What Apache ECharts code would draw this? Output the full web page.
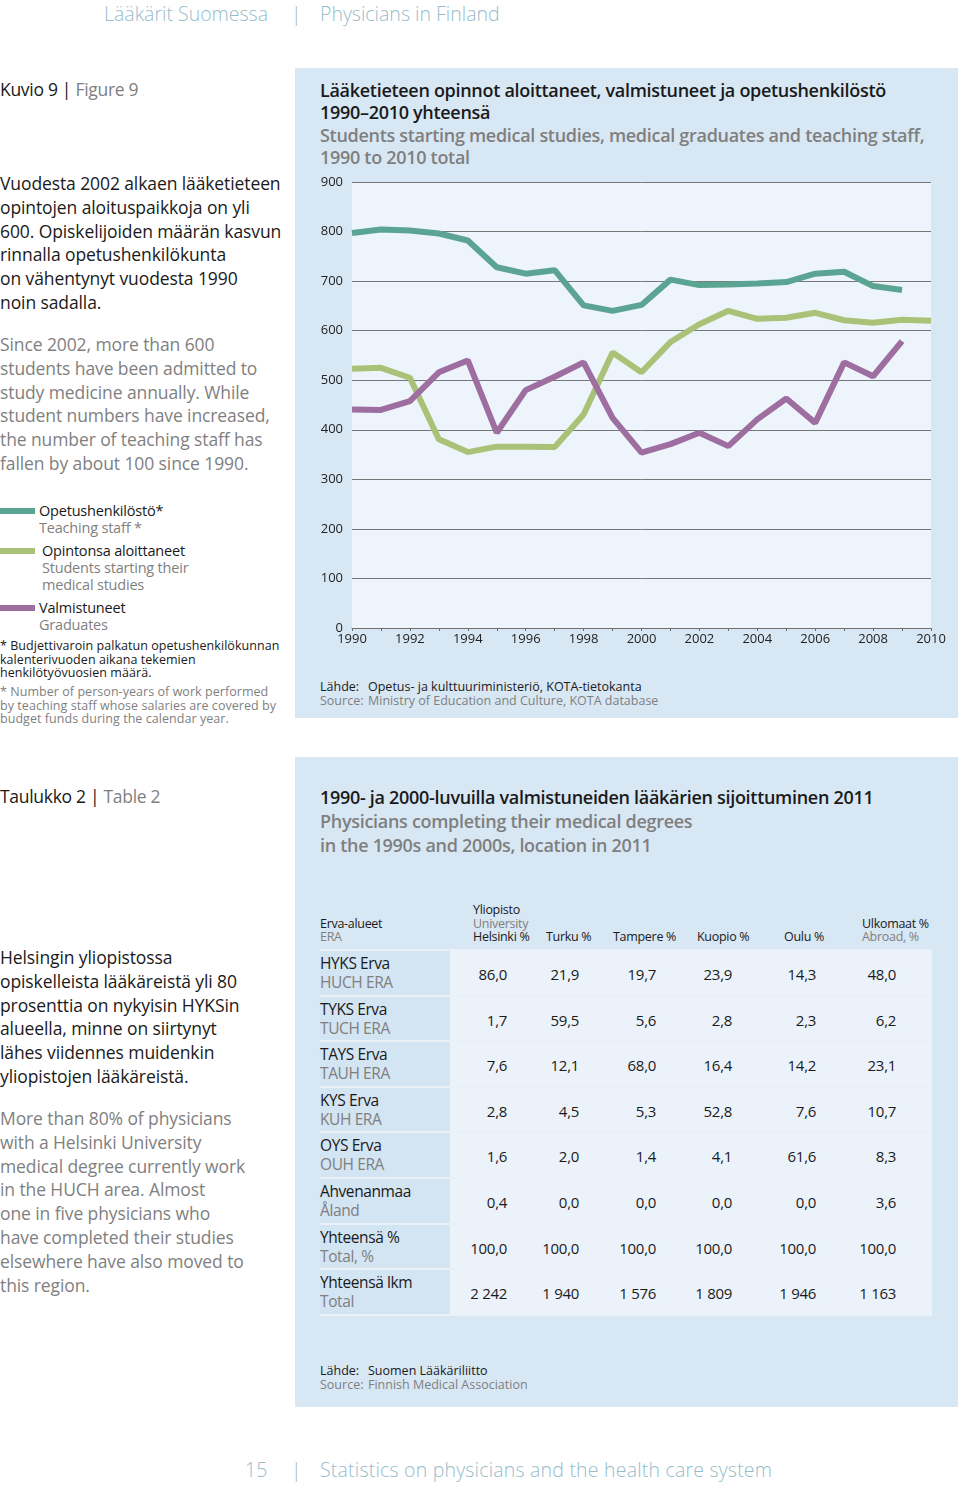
<!DOCTYPE html>
<html><head><meta charset="utf-8">
<script src="https://cdn.jsdelivr.net/npm/echarts@6/dist/echarts.min.js"></script>
<style>
body{margin:0;background:#fff;}
#page{position:relative;width:960px;height:1487px;overflow:hidden;font-family:"Open Sans",sans-serif;color:#1a1a1a;}
.a{position:absolute;white-space:nowrap;}
.grey{color:#7f7f7f;}
.hdr{font-weight:300;font-size:19.5px;line-height:24px;color:#98bccb;}
.body{font-size:17.5px;line-height:23.8px;letter-spacing:-0.1px;}
.panel{position:absolute;background:#d8e7f4;}
.ttl{font-size:18px;line-height:22.4px;font-weight:600;letter-spacing:-0.3px;}
.src{font-size:12.5px;line-height:14px;letter-spacing:0;}
.src span{display:inline-block;width:48px;}
.leg{font-size:14.5px;line-height:17px;letter-spacing:-0.2px;}
.fn{font-size:12.5px;line-height:13.5px;letter-spacing:0.05px;}
.sw{position:absolute;left:0;width:35px;height:6px;}
.cond{font-family:"Open Sans",sans-serif;}
</style></head>
<body>
<div id="page">
  <div class="a hdr" style="left:104px;top:2px;">Lääkärit Suomessa</div>
  <div class="a hdr" style="left:291px;top:2px;">|</div>
  <div class="a hdr" style="left:320px;top:2px;">Physicians in Finland</div>

  <div class="a body" style="left:0;top:78px;font-size:17.5px;letter-spacing:-0.3px;">Kuvio 9 | <span class="grey">Figure 9</span></div>
  <div class="a body" style="left:0;top:172px;">Vuodesta 2002 alkaen lääketieteen<br>opintojen aloituspaikkoja on yli<br>600. Opiskelijoiden määrän kasvun<br>rinnalla opetushenkilökunta<br>on vähentynyt vuodesta 1990<br>noin sadalla.</div>
  <div class="a body grey" style="left:0;top:333px;">Since 2002, more than 600<br>students have been admitted to<br>study medicine annually. While<br>student numbers have increased,<br>the number of teaching staff has<br>fallen by about 100 since 1990.</div>

  <div class="sw" style="top:508px;background:#5ba494;"></div>
  <div class="a leg" style="left:39px;top:502px;">Opetushenkilöstö*<br><span class="grey">Teaching staff *</span></div>
  <div class="sw" style="top:548px;background:#a9c277;"></div>
  <div class="a leg" style="left:42px;top:542px;">Opintonsa aloittaneet<br><span class="grey">Students starting their<br>medical studies</span></div>
  <div class="sw" style="top:605px;background:#9d6e9f;"></div>
  <div class="a leg" style="left:39px;top:599px;">Valmistuneet<br><span class="grey">Graduates</span></div>
  <div class="a fn" style="left:0;top:639px;">* Budjettivaroin palkatun opetushenkilökunnan<br>kalenterivuoden aikana tekemien<br>henkilötyövuosien määrä.</div>
  <div class="a fn grey" style="left:0;top:685px;">* Number of person-years of work performed<br>by teaching staff whose salaries are covered by<br>budget funds during the calendar year.</div>

  <div class="panel" style="left:295px;top:68px;width:663px;height:650px;"></div>
  <div class="a ttl" style="left:320px;top:79px;">Lääketieteen opinnot aloittaneet, valmistuneet ja opetushenkilöstö<br>1990–2010 yhteensä<br><span class="grey">Students starting medical studies, medical graduates and teaching staff,<br>1990 to 2010 total</span></div>
  <div id="chart" class="a" style="left:295px;top:170px;width:663px;height:480px;"></div>
  <div class="a src" style="left:320px;top:680px;"><span>Lähde:</span>Opetus- ja kulttuuriministeriö, KOTA-tietokanta<br><span class="grey" style="color:#7f7f7f">Source:</span><span class="grey" style="width:auto">Ministry of Education and Culture, KOTA database</span></div>

  <div class="a body" style="left:0;top:785px;font-size:17.5px;letter-spacing:-0.3px;">Taulukko 2 | <span class="grey">Table 2</span></div>
  <div class="a body" style="left:0;top:946px;">Helsingin yliopistossa<br>opiskelleista lääkäreistä yli 80<br>prosenttia on nykyisin HYKSin<br>alueella, minne on siirtynyt<br>lähes viidennes muidenkin<br>yliopistojen lääkäreistä.</div>
  <div class="a body grey" style="left:0;top:1107px;">More than 80% of physicians<br>with a Helsinki University<br>medical degree currently work<br>in the HUCH area. Almost<br>one in five physicians who<br>have completed their studies<br>elsewhere have also moved to<br>this region.</div>

  <div class="panel" style="left:295px;top:757px;width:663px;height:650px;"></div>
  <div class="a ttl" style="left:320px;top:785px;line-height:24px;">1990- ja 2000-luvuilla valmistuneiden lääkärien sijoittuminen 2011<br><span class="grey">Physicians completing their medical degrees<br>in the 1990s and 2000s, location in 2011</span></div>
  <div id="table"></div>
  <div class="a src" style="left:320px;top:1364px;"><span>Lähde:</span>Suomen Lääkäriliitto<br><span class="grey" style="color:#7f7f7f">Source:</span><span class="grey" style="width:auto">Finnish Medical Association</span></div>

  <div class="a hdr" style="left:245px;top:1458px;">15</div>
  <div class="a hdr" style="left:291px;top:1458px;">|</div>
  <div class="a hdr" style="left:320px;top:1458px;letter-spacing:0.2px;">Statistics on physicians and the health care system</div>
</div>
<script>
// ---- Figure 9 data ----
const years = ['1990','1991','1992','1993','1994','1995','1996','1997','1998','1999','2000','2001','2002','2003','2004','2005','2006','2007','2008','2009','2010'];
const teachingStaff = [797,804,802,796,782,728,715,722,651,640,652,703,692,693,695,698,715,719,690,682,null];
const studentsStarting = [523,525,505,381,355,366,366,365,431,556,516,577,613,640,624,626,636,621,616,622,620];
const graduates = [441,440,458,516,540,394,480,507,536,424,354,371,394,367,421,463,414,536,508,579,null];
const seriesNames = ['Opetushenkilöstö','Opintonsa aloittaneet','Valmistuneet'];

// ---- Table 2 data ----
const regionsFi = ['HYKS Erva','TYKS Erva','TAYS Erva','KYS Erva','OYS Erva','Ahvenanmaa','Yhteensä %','Yhteensä lkm'];
const regionsEn = ['HUCH ERA','TUCH ERA','TAUH ERA','KUH ERA','OUH ERA','Åland','Total, %','Total'];
const helsinki = ['86,0','1,7','7,6','2,8','1,6','0,4','100,0','2 242'];
const turku    = ['21,9','59,5','12,1','4,5','2,0','0,0','100,0','1 940'];
const tampere  = ['19,7','5,6','68,0','5,3','1,4','0,0','100,0','1 576'];
const kuopio   = ['23,9','2,8','16,4','52,8','4,1','0,0','100,0','1 809'];
const oulu     = ['14,3','2,3','14,2','7,6','61,6','0,0','100,0','1 946'];
const abroad   = ['48,0','6,2','23,1','10,7','8,3','3,6','100,0','1 163'];

const chart = echarts.init(document.getElementById('chart'));
const fontCond = '"Open Sans",sans-serif';
chart.setOption({
  animation:false,
  grid:{left:57,right:27,top:12,bottom:22,show:true,backgroundColor:'#eef4fb',borderWidth:0},
  xAxis:{type:'category',data:years,boundaryGap:false,
    axisLine:{lineStyle:{color:'#6f6f6f',width:1}},
    axisTick:{interval:0,length:3,lineStyle:{color:'#6f6f6f'}},
    axisLabel:{interval:1,color:'#222',fontSize:13,margin:5,fontFamily:fontCond},
    splitLine:{show:false}},
  yAxis:{type:'value',min:0,max:900,interval:100,
    axisLine:{show:false},axisTick:{show:false},
    axisLabel:{color:'#222',fontSize:13,margin:9,fontFamily:fontCond},
    splitLine:{lineStyle:{color:'#777',width:1}}},
  series:[
    {name:seriesNames[0],type:'line',data:teachingStaff,symbol:'none',lineStyle:{color:'#5ba494',width:6},itemStyle:{color:'#5ba494'}},
    {name:seriesNames[1],type:'line',data:studentsStarting,symbol:'none',lineStyle:{color:'#a9c277',width:6},itemStyle:{color:'#a9c277'}},
    {name:seriesNames[2],type:'line',data:graduates,symbol:'none',lineStyle:{color:'#9d6e9f',width:6},itemStyle:{color:'#9d6e9f'}}
  ]
});

// build table
(function(){
  const page = document.getElementById('page');
  const cols = [helsinki,turku,tampere,kuopio,oulu,abroad];
  const rightEdges = [507,579,656,732,816,896];
  const rowTop = 951, rowH = 45.6;
  function add(html, style){const d=document.createElement('div');d.className='a cond';d.style.cssText=style;d.innerHTML=html;page.appendChild(d);return d;}
  // header
  const hs='font-size:12.5px;line-height:13.5px;top:903px;letter-spacing:-0.3px;';
  add('<br>Erva-alueet<br><span class="grey">ERA</span>', hs+'left:320px;');
  add('Yliopisto<br><span class="grey">University</span><br>Helsinki %', hs+'left:473px;');
  add('<br><br>Turku %', hs+'left:546px;');
  add('<br><br>Tampere %', hs+'left:613px;');
  add('<br><br>Kuopio %', hs+'left:697px;');
  add('<br><br>Oulu %', hs+'left:784px;');
  add('<br>Ulkomaat %<br><span class="grey">Abroad, %</span>', hs+'left:862px;');
  for(let r=0;r<regionsFi.length;r++){
    const t = rowTop + r*rowH;
    add('', `left:320px;top:${t}px;width:130px;height:${rowH-2}px;background:#d3e4f2;`);
    add('', `left:450px;top:${t}px;width:482px;height:${rowH-2}px;background:#ebf2fa;`);
    add('', `left:320px;top:${t+rowH-2}px;width:612px;height:2px;background:#e9f0f7;`);
    add(regionsFi[r]+'<br><span class="grey">'+regionsEn[r]+'</span>', `left:320px;top:${t+3}px;font-size:15.5px;line-height:19px;letter-spacing:-0.4px;`);
    for(let c=0;c<cols.length;c++){
      add(cols[c][r], `left:${rightEdges[c]-80}px;width:80px;text-align:right;top:${t+13}px;font-size:15px;line-height:20px;letter-spacing:-0.3px;`);
    }
  }
  add('', `left:320px;top:${rowTop-2}px;width:612px;height:2px;background:#e9f0f7;`);
})();
</script>
</body></html>
